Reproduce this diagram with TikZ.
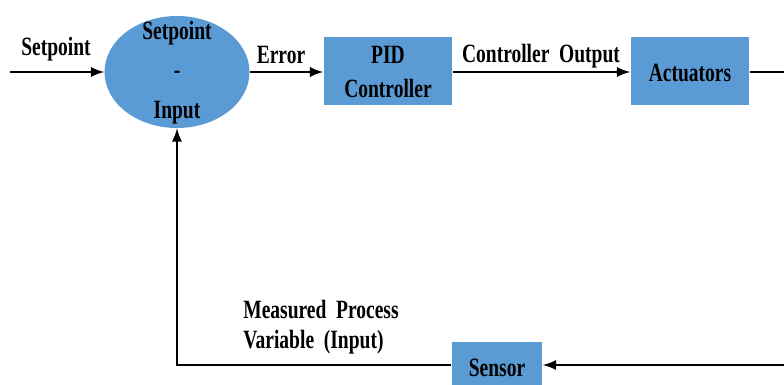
\documentclass[tikz,border=0pt]{standalone}
\usepackage{fontspec}
\setmainfont{Liberation Serif}[FakeStretch=0.74]
\usetikzlibrary{arrows}
\usetikzlibrary{shapes.geometric}

\definecolor{boxblue}{HTML}{5B9BD5}

\tikzset{
    block/.style={fill=boxblue, draw=none, inner sep=0pt},
    sum/.style={ellipse, fill=boxblue, draw=none, inner sep=0pt,
        minimum width=2.9cm, minimum height=2.24cm},
    lbl/.style={inner sep=0pt, font=\bfseries\fontsize{15}{17}\selectfont},
    wire/.style={line width=1.6pt, -latex},
}

\begin{document}
\begin{tikzpicture}[x=0.02cm, y=-0.02cm]
    \clip (0,0) rectangle (784,385);
    \fill[white] (0,0) rectangle (784,385);
    % Blocks.
    \node[sum] (sum) at (177,72) {};
    \node[lbl] (sumtop) at (177,33) {Setpoint};
    \node[lbl] (summid) at (177,75) {-};
    \node[lbl] (sumbot) at (177,113) {Input};
    \node[block, minimum width=2.58cm, minimum height=1.36cm] (pid) at (388,71) {};
    \node[lbl] (pidtop) at (388,55) {PID};
    \node[lbl] (pidbot) at (388,88) {Controller};
    \node[block, minimum width=2.38cm, minimum height=1.38cm] (act) at (690,71) {};
    \node[lbl] (acttxt) at (690,73) {Actuators};
    \node[block, minimum width=1.82cm, minimum height=0.92cm] (sensor) at (497,365) {};
    \node[lbl] (sensortxt) at (497,368) {Sensor};
    % Free ends.
    \coordinate (in) at (10,72);
    \coordinate (outtop) at (786,72);
    \coordinate (outbot) at (786,365);
    % Forward path.
    \draw[wire] (in) -- (sum.west);
    \node[lbl] (sp) at (56,49) {Setpoint};
    \draw[wire] (sum.east) -- (pid.west |- sum.east);
    \node[lbl] (err) at (281,55) {Error};
    \draw[wire] (pid.east |- sum.east) -- (act.west |- sum.east);
    \node[lbl] (co) at (541,56) {Controller\ \ Output};
    \draw[line width=1.6pt] (act.east |- sum.east) -- (outtop);
    % Feedback path.
    \draw[wire] (outbot) -- (sensor.east);
    \draw[wire] (sensor.west) -- (sum.south |- sensor.west) -- (sum.south);
    \node[lbl, anchor=west, align=left, font=\bfseries\fontsize{15}{17}\selectfont] (mpv) at (243,327)
        {Measured\ \ Process\\Variable\ \ (Input)};
\end{tikzpicture}
\end{document}
